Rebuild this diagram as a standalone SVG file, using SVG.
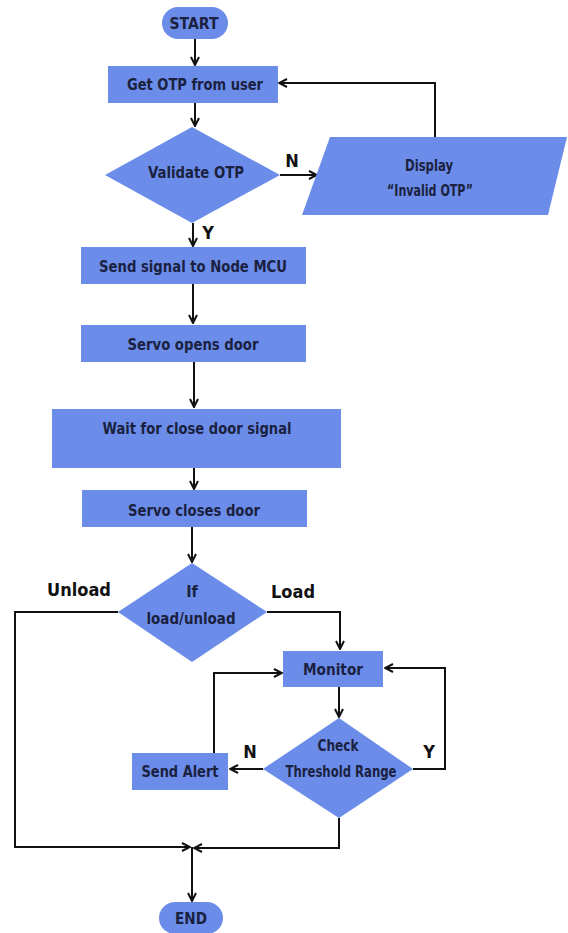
<svg xmlns="http://www.w3.org/2000/svg" width="568" height="933" viewBox="0 0 568 933">
<defs>
<marker id="ah" viewBox="0 0 10 10" refX="9" refY="5" markerWidth="10" markerHeight="10" markerUnits="userSpaceOnUse" orient="auto">
<path d="M1,1 L9,5 L1,9" fill="none" stroke="#111" stroke-width="2"/>
</marker>
<style>
.s{fill:#6b8de9;}
.t{font-family:"DejaVu Sans Condensed","DejaVu Sans",sans-serif;font-weight:bold;font-size:16px;fill:#1b2140;text-anchor:middle;}
.l{font-family:"DejaVu Sans Condensed","DejaVu Sans",sans-serif;font-weight:bold;font-size:18px;fill:#111;text-anchor:middle;}
.c{fill:none;stroke:#111;stroke-width:2;}
.a{marker-end:url(#ah);}
</style>
</defs>
<rect width="568" height="933" fill="#fff"/>
<g id="connectors">
<path class="c a" d="M195,39 V65"/>
<path class="c a" d="M195,103 V126"/>
<path class="c a" d="M280,175 H317"/>
<path class="c a" d="M435,137 V83 H279"/>
<path class="c a" d="M193,223 V246"/>
<path class="c a" d="M193,284 V323"/>
<path class="c a" d="M194,362 V407"/>
<path class="c a" d="M194,468 V489"/>
<path class="c a" d="M192,527 V562"/>
<path class="c a" d="M267,612 H340 V649"/>
<path class="c a" d="M118,612 H15 V847 H190"/>
<path class="c a" d="M339,687 V717"/>
<path class="c a" d="M413,769 H445 V668 H385"/>
<path class="c a" d="M263,769 H230"/>
<path class="c a" d="M214,753 V673 H282"/>
<path class="c a" d="M339,818 V848 H194"/>
<path class="c a" d="M192,847 V901"/>
<text class="l" x="292" y="167">N</text>
<text class="l" x="208" y="239">Y</text>
<text class="l" x="79" y="596">Unload</text>
<text class="l" x="293" y="598">Load</text>
<text class="l" x="250" y="758">N</text>
<text class="l" x="429" y="758">Y</text>
</g>
<g id="start"><rect class="s" x="162" y="7" width="66" height="32" rx="16"/><text class="t" x="194" y="29" textLength="49" lengthAdjust="spacingAndGlyphs">START</text></g>
<g id="get-otp"><rect class="s" x="108" y="66" width="170" height="37"/><text class="t" x="195" y="90" textLength="136" lengthAdjust="spacingAndGlyphs">Get OTP from user</text></g>
<g id="validate"><polygon class="s" points="192,127 280,175 192,223 105,175"/><text class="t" x="196" y="178" textLength="96" lengthAdjust="spacingAndGlyphs">Validate OTP</text></g>
<g id="display"><polygon class="s" points="330,137 567,137 548,215 302,215"/><text class="t" x="429" y="171" textLength="48" lengthAdjust="spacingAndGlyphs">Display</text><text class="t" x="430" y="196" textLength="86" lengthAdjust="spacingAndGlyphs">“Invalid OTP”</text></g>
<g id="send-signal"><rect class="s" x="81" y="247" width="225" height="37"/><text class="t" x="193" y="272" textLength="188" lengthAdjust="spacingAndGlyphs">Send signal to Node MCU</text></g>
<g id="servo-open"><rect class="s" x="81" y="325" width="225" height="37"/><text class="t" x="193" y="350" textLength="131" lengthAdjust="spacingAndGlyphs">Servo opens door</text></g>
<g id="wait"><rect class="s" x="52" y="409" width="289" height="59"/><text class="t" x="197" y="434" textLength="189" lengthAdjust="spacingAndGlyphs">Wait for close door signal</text></g>
<g id="servo-close"><rect class="s" x="82" y="490" width="225" height="37"/><text class="t" x="194" y="516" textLength="132" lengthAdjust="spacingAndGlyphs">Servo closes door</text></g>
<g id="load-decision"><polygon class="s" points="192,563 267,612 192,662 118,612"/><text class="t" x="192" y="597">If</text><text class="t" x="191" y="624" textLength="89" lengthAdjust="spacingAndGlyphs">load/unload</text></g>
<g id="monitor"><rect class="s" x="283" y="651" width="100" height="36"/><text class="t" x="333" y="675" textLength="60" lengthAdjust="spacingAndGlyphs">Monitor</text></g>
<g id="check"><polygon class="s" points="339,718 413,769 339,818 263,769"/><text class="t" x="338" y="751" textLength="41" lengthAdjust="spacingAndGlyphs">Check</text><text class="t" x="341" y="777" textLength="111" lengthAdjust="spacingAndGlyphs">Threshold Range</text></g>
<g id="send-alert"><rect class="s" x="132" y="753" width="96" height="37"/><text class="t" x="180" y="777" textLength="77" lengthAdjust="spacingAndGlyphs">Send Alert</text></g>
<g id="end"><rect class="s" x="159" y="902" width="64" height="32" rx="16"/><text class="t" x="191" y="924" textLength="32" lengthAdjust="spacingAndGlyphs">END</text></g>
</svg>
